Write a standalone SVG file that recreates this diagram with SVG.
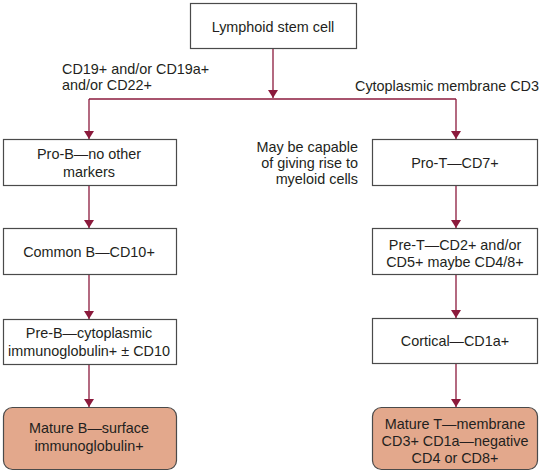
<svg xmlns="http://www.w3.org/2000/svg" width="542" height="473" viewBox="0 0 542 473">
<defs>
<style>
.box{fill:#fff;stroke:#4a4a4a;stroke-width:1.2}
.mat{fill:#e3a88c;stroke:#4a4a4a;stroke-width:1.2}
.t{font-family:"Liberation Sans",Arial,sans-serif;font-size:14.4px;fill:#231f20;text-anchor:middle}
.l{font-family:"Liberation Sans",Arial,sans-serif;font-size:14.4px;fill:#231f20}
.c{fill:none;stroke:#8b1a3c;stroke-width:1.3}
</style>
<marker id="ah" viewBox="0 0 8 10" refX="8" refY="5" markerWidth="8" markerHeight="10" markerUnits="userSpaceOnUse" orient="auto">
<path d="M0,0 L8,5 L0,10 z" fill="#8b1a3c"/>
</marker>
</defs>
<rect width="542" height="473" fill="#fff"/>
<g id="connectors">
<path class="c" d="M273,49 V98" marker-end="url(#ah)"/>
<path class="c" d="M89,99 H456"/>
<path class="c" d="M89,99 V139" marker-end="url(#ah)"/>
<path class="c" d="M456,99 V139" marker-end="url(#ah)"/>
<path class="c" d="M89,186 V228" marker-end="url(#ah)"/>
<path class="c" d="M89,275 V319" marker-end="url(#ah)"/>
<path class="c" d="M89,365 V407" marker-end="url(#ah)"/>
<path class="c" d="M456,186 V228" marker-end="url(#ah)"/>
<path class="c" d="M456,275 V318" marker-end="url(#ah)"/>
<path class="c" d="M456,364 V407" marker-end="url(#ah)"/>
</g>
<g id="labels">
<text class="l" x="62" y="74">CD19+ and/or CD19a+</text>
<text class="l" x="62" y="90">and/or CD22+</text>
<text class="l" x="355" y="91">Cytoplasmic membrane CD3</text>
<text class="l" x="358" y="152" text-anchor="end">May be capable</text>
<text class="l" x="358" y="168" text-anchor="end">of giving rise to</text>
<text class="l" x="358" y="184" text-anchor="end">myeloid cells</text>
</g>
<g id="stem">
<rect class="box" x="190.5" y="3.5" width="166" height="45"/>
<text class="t" x="273" y="32">Lymphoid stem cell</text>
</g>
<g id="pro-b">
<rect class="box" x="3.5" y="139.5" width="173" height="46"/>
<text class="t" x="89" y="159">Pro-B—no other</text>
<text class="t" x="89" y="177">markers</text>
</g>
<g id="common-b">
<rect class="box" x="3.5" y="228.5" width="173" height="46"/>
<text class="t" x="89" y="257">Common B—CD10+</text>
</g>
<g id="pre-b">
<rect class="box" x="3.5" y="319.5" width="173" height="45"/>
<text class="t" x="89" y="338">Pre-B—cytoplasmic</text>
<text class="t" x="89" y="356">immunoglobulin+ ± CD10</text>
</g>
<g id="mature-b">
<rect class="mat" x="3.5" y="407.5" width="173" height="62" rx="9"/>
<text class="t" x="89" y="433">Mature B—surface</text>
<text class="t" x="89" y="451">immunoglobulin+</text>
</g>
<g id="pro-t">
<rect class="box" x="372.5" y="139.5" width="165" height="46"/>
<text class="t" x="455" y="168">Pro-T—CD7+</text>
</g>
<g id="pre-t">
<rect class="box" x="372.5" y="228.5" width="165" height="46"/>
<text class="t" x="455" y="250">Pre-T—CD2+ and/or</text>
<text class="t" x="455" y="267">CD5+ maybe CD4/8+</text>
</g>
<g id="cortical">
<rect class="box" x="372.5" y="318.5" width="165" height="45"/>
<text class="t" x="455" y="346">Cortical—CD1a+</text>
</g>
<g id="mature-t">
<rect class="mat" x="372.5" y="407.5" width="165" height="62" rx="9"/>
<text class="t" x="455" y="429">Mature T—membrane</text>
<text class="t" x="455" y="446">CD3+ CD1a—negative</text>
<text class="t" x="455" y="463">CD4 or CD8+</text>
</g>
</svg>
